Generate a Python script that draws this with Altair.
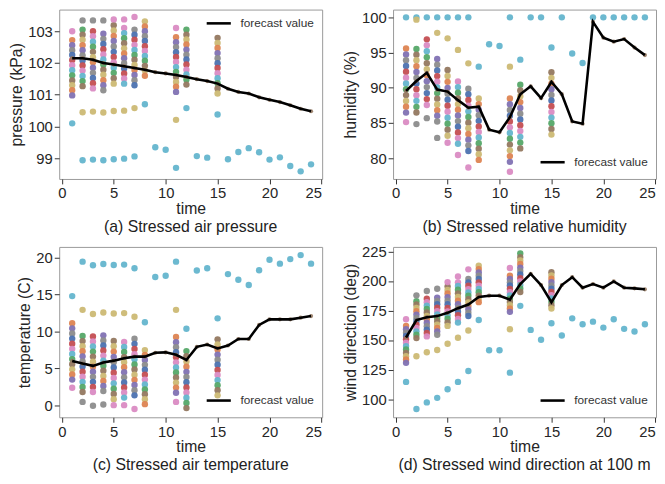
import altair as alt
import pandas as pd

HOURS = list(range(1, 25))
COLUMN_HOURS = [1, 2, 3, 4, 5, 6, 7, 8, 11, 12, 15]

PALETTE_NAMES = ["blue", "orange", "green", "red", "purple", "brown", "pink", "gray", "olive", "cyan"]
PALETTE_HEX = ["#4C72B0", "#DD8452", "#55A868", "#C44E52", "#8172B3", "#937860",
               "#DA8BC3", "#8C8C8C", "#CCB974", "#64B5CD"]

# ---------------- (a) air pressure ----------------
pressure_forecast = [102.15, 102.15, 102.10, 102.00, 101.95, 101.90, 101.84, 101.79, 101.71, 101.67,
                     101.62, 101.56, 101.49, 101.43, 101.35, 101.19, 101.09, 101.04, 100.92, 100.84,
                     100.77, 100.67, 100.56, 100.48]
pressure_columns = [
    [102.72, 102.56, 102.40, 102.25, 102.09, 101.93, 101.77, 101.61, 101.45, 101.30, 101.14, 100.98],
    [103.05, 102.89, 102.73, 102.56, 102.40, 102.24, 102.08, 101.92, 101.76, 101.59, 101.43, 101.27],
    [103.00, 102.84, 102.67, 102.51, 102.35, 102.18, 102.02, 101.85, 101.69, 101.53, 101.36, 101.20],
    [102.92, 102.76, 102.60, 102.43, 102.27, 102.11, 101.95, 101.79, 101.63, 101.46, 101.30, 101.14],
    [103.19, 103.02, 102.85, 102.69, 102.52, 102.35, 102.19, 102.02, 101.85, 101.69, 101.52, 101.35],
    [103.10, 102.94, 102.78, 102.62, 102.46, 102.30, 102.15, 101.99, 101.83, 101.67, 101.51, 101.35],
    [103.05, 102.89, 102.73, 102.57, 102.41, 102.25, 102.10, 101.94, 101.78, 101.62, 101.46, 101.30],
    [103.31, 103.15, 103.00, 102.84, 102.69, 102.53, 102.38, 102.22, 102.07, 101.91, 101.76, 101.60],
    [102.81, 102.65, 102.50, 102.34, 102.19, 102.03, 101.87, 101.72, 101.56, 101.40, 101.25, 101.09],
    [103.05, 102.89, 102.74, 102.58, 102.42, 102.26, 102.11, 101.95, 101.79, 101.64, 101.48, 101.32],
    [102.79, 102.63, 102.47, 102.31, 102.15, 101.99, 101.84, 101.68, 101.52, 101.36, 101.20, 101.04],
]
pressure_cyan = [100.10, 98.94, 98.96, 98.94, 98.97, 98.99, 99.06, 100.70, 99.35, 99.27,
                 98.70, 100.58, 99.07, 99.02, 100.38, 98.97, 99.20, 99.32, 99.19, 98.96,
                 99.03, 98.76, 98.59, 98.81]
pressure_tan_hours = [2, 3, 4, 5, 6, 7, 11]
pressure_tan = [100.45, 100.47, 100.44, 100.49, 100.50, 100.58, 100.21]
pressure_pink_hours = [1, 5, 6, 7, 11]
pressure_pink = [103.00, 103.37, 103.37, 103.45, 103.10]
pressure_gray_hours = [2, 3, 4]
pressure_gray = [103.34, 103.34, 103.34]

# ---------------- (b) relative humidity ----------------
humidity_forecast = [89.56, 90.96, 92.12, 89.74, 89.46, 88.25, 87.18, 87.32, 84.06, 83.68,
                     85.83, 89.09, 90.21, 88.53, 90.82, 89.09, 85.22, 84.90, 99.35, 97.11,
                     96.55, 96.92, 95.71, 94.64]
humidity_columns = [
    [95.57, 94.74, 93.92, 93.09, 92.27, 91.44, 90.61, 89.79, 88.96, 88.13, 87.31, 86.48],
    [95.50, 94.70, 93.90, 93.05, 92.25, 91.40, 90.60, 89.80, 88.95, 88.15, 87.30, 86.50],
    [96.88, 96.03, 95.18, 94.34, 93.49, 92.64, 91.79, 90.94, 90.10, 89.25, 88.40, 87.55],
    [94.08, 93.27, 92.47, 91.66, 90.86, 90.05, 89.25, 88.44, 87.64, 86.83, 86.03, 85.22],
    [92.54, 91.69, 90.84, 89.99, 89.14, 88.30, 87.45, 86.60, 85.75, 84.90, 84.05, 83.20],
    [90.91, 90.10, 89.30, 88.49, 87.69, 86.88, 86.08, 85.27, 84.47, 83.66, 82.86, 82.05],
    [89.88, 89.08, 88.27, 87.47, 86.66, 85.86, 85.05, 84.25, 83.44, 82.64, 81.83, 81.03],
    [88.48, 87.69, 86.90, 86.10, 85.31, 84.52, 83.73, 82.94, 82.14, 81.35, 80.56, 79.77],
    [88.48, 87.66, 86.85, 86.03, 85.21, 84.39, 83.58, 82.76, 81.94, 81.12, 80.31, 79.49],
    [90.44, 89.62, 88.80, 87.97, 87.15, 86.33, 85.51, 84.69, 83.87, 83.04, 82.22, 81.40],
    [92.21, 91.41, 90.60, 89.80, 88.99, 88.19, 87.38, 86.58, 85.77, 84.97, 84.16, 83.36],
]
humidity_cyan = [100.0, 100.0, 100.0, 100.0, 100.0, 100.0, 100.0, 93.00, 96.18, 95.94,
                 100.0, 93.99, 100.0, 100.0, 95.71, 100.0, 94.87, 93.52, 100.0, 100.0,
                 100.0, 100.0, 100.0, 100.0]
humidity_tan_hours = [2, 4, 5, 6, 7, 11]
humidity_tan = [99.67, 97.80, 97.02, 95.38, 93.47, 93.00]
humidity_pink_hours = [1, 5, 6, 7, 11]
humidity_pink = [85.13, 82.20, 80.47, 78.69, 78.09]
humidity_gray_hours = [2, 3, 4]
humidity_gray = [84.85, 85.69, 82.89]

# ---------------- (c) air temperature ----------------
temperature_forecast = [6.00, 5.64, 5.33, 5.78, 6.04, 6.36, 6.58, 6.58, 7.11, 7.16,
                        6.84, 6.13, 7.91, 8.22, 7.69, 8.09, 8.98, 8.98, 10.89, 11.64,
                        11.64, 11.64, 11.87, 12.09]
temperature_columns = [
    [11.11, 10.42, 9.72, 9.03, 8.33, 7.64, 6.94, 6.25, 5.55, 4.86, 4.16, 3.47],
    [9.38, 8.69, 8.00, 7.31, 6.62, 5.93, 5.23, 4.54, 3.85, 3.16, 2.47, 1.78],
    [9.33, 8.64, 7.96, 7.27, 6.59, 5.90, 5.21, 4.53, 3.84, 3.16, 2.47, 1.78],
    [9.47, 8.78, 8.10, 7.41, 6.72, 6.04, 5.35, 4.66, 3.97, 3.29, 2.60, 1.91],
    [8.71, 7.99, 7.27, 6.55, 5.83, 5.12, 4.40, 3.68, 2.96, 2.24, 1.52, 0.80],
    [8.58, 7.89, 7.21, 6.52, 5.83, 5.14, 4.46, 3.77, 3.08, 2.39, 1.71, 1.02],
    [9.02, 8.32, 7.62, 6.92, 6.22, 5.53, 4.83, 4.13, 3.43, 2.73, 2.03, 1.33],
    [7.47, 6.80, 6.13, 5.47, 4.80, 4.14, 3.47, 2.80, 2.13, 1.47, 0.80, 0.13],
    [9.24, 8.55, 7.87, 7.18, 6.50, 5.81, 5.12, 4.43, 3.75, 3.06, 2.38, 1.69],
    [7.33, 6.63, 5.92, 5.22, 4.52, 3.81, 3.11, 2.41, 1.71, 1.00, 0.30, -0.40],
    [8.93, 8.24, 7.55, 6.86, 6.17, 5.48, 4.78, 4.09, 3.40, 2.71, 2.02, 1.33],
]
temperature_cyan = [14.80, 19.47, 18.98, 19.16, 19.02, 19.07, 18.58, 11.24, 17.38, 17.56,
                    19.47, 10.36, 18.27, 18.58, 11.78, 17.78, 17.02, 16.31, 18.31, 19.73,
                    19.20, 19.82, 20.36, 19.20]
temperature_tan_hours = [2, 3, 4, 5, 6, 7, 11]
temperature_tan = [12.93, 12.36, 12.58, 12.44, 12.49, 12.00, 12.93]
temperature_pink_hours = [1, 5, 6, 7, 11]
temperature_pink = [2.36, 0.00, 0.00, -0.53, 0.44]
temperature_gray_hours = [2, 3, 4]
temperature_gray = [0.44, -0.09, 0.09]

# ---------------- (d) wind direction at 100 m ----------------
wind_forecast = [152.2, 167.0, 169.4, 170.3, 173.1, 177.0, 180.1, 186.5, 187.6, 187.6,
                 184.3, 197.4, 206.1, 196.6, 182.1, 196.6, 203.3, 194.4, 197.4, 194.4,
                 199.7, 194.4, 193.8, 193.0]
wind_columns = [
    [162.0, 159.2, 156.3, 153.5, 150.6, 147.8, 144.9, 142.1, 139.2, 136.4, 133.5, 130.7],
    [182.9, 180.1, 177.2, 174.4, 171.6, 168.7, 165.9, 163.1, 160.2, 157.4, 154.5, 151.7],
    [185.0, 182.1, 179.2, 176.3, 173.4, 170.5, 167.6, 164.7, 161.8, 158.9, 156.0, 153.1],
    [186.0, 183.1, 180.3, 177.4, 174.5, 171.7, 168.8, 165.9, 163.1, 160.2, 157.4, 154.5],
    [195.5, 192.5, 189.4, 186.4, 183.3, 180.3, 177.2, 174.2, 171.1, 168.1, 165.0, 162.0],
    [198.9, 195.8, 192.7, 189.6, 186.5, 183.4, 180.3, 177.2, 174.1, 171.0, 167.9, 164.8],
    [201.7, 198.9, 196.0, 193.2, 190.3, 187.5, 184.6, 181.8, 178.9, 176.1, 173.2, 170.4],
    [212.9, 210.1, 207.3, 204.5, 201.7, 198.9, 196.1, 193.3, 190.5, 187.7, 184.9, 182.1],
    [204.5, 201.7, 198.9, 196.2, 193.4, 190.6, 187.8, 185.0, 182.2, 179.5, 176.7, 173.9],
    [223.3, 220.3, 217.4, 214.4, 211.4, 208.5, 205.5, 202.5, 199.6, 196.6, 193.7, 190.7],
    [207.5, 204.7, 201.9, 199.1, 196.3, 193.5, 190.8, 188.0, 185.2, 182.4, 179.6, 176.8],
]
wind_cyan = [114.6, 91.6, 97.2, 101.1, 108.4, 114.6, 123.8, 167.0, 141.4, 141.4,
             122.4, 179.0, 158.6, 150.3, 164.2, 153.9, 168.4, 163.4, 165.6, 160.6,
             167.6, 159.5, 157.3, 163.4]
wind_tan_hours = [2, 3, 4, 5, 6, 7, 11]
wind_tan = [136.3, 139.7, 141.6, 146.9, 152.0, 158.1, 159.2]
wind_pink_hours = [1, 5, 6, 7, 11]
wind_pink = [167.6, 199.1, 203.8, 209.9, 211.0]
wind_gray_hours = [2, 3, 4]
wind_gray = [187.9, 191.6, 193.5]

FONT = "Liberation Sans"


def build_panel(forecast, columns, cyan, tan_h, tan, pink_h, pink, gray_h, gray,
                domain, yticks, ytitle, caption, legend_y, height):
    rows = []
    for h, vals in zip(COLUMN_HOURS, columns):
        for i, v in enumerate(vals):
            rows.append({"time": h, "value": v, "member": PALETTE_NAMES[(i * 3 + h) % 10]})
    for h, v in zip(HOURS, cyan):
        rows.append({"time": h, "value": v, "member": "cyan"})
    for h, v in zip(tan_h, tan):
        rows.append({"time": h, "value": v, "member": "olive"})
    for h, v in zip(pink_h, pink):
        rows.append({"time": h, "value": v, "member": "pink"})
    for h, v in zip(gray_h, gray):
        rows.append({"time": h, "value": v, "member": "gray"})
    ens = pd.DataFrame(rows)
    fc = pd.DataFrame({"time": HOURS, "value": forecast, "series": ["forecast value"] * len(HOURS)})

    x = alt.X("time:Q", scale=alt.Scale(domain=[-0.25, 25.07], nice=False, zero=False),
              axis=alt.Axis(values=[0, 5, 10, 15, 20, 25], title="time"))
    y = alt.Y("value:Q", scale=alt.Scale(domain=domain, nice=False, zero=False),
              axis=alt.Axis(values=yticks, title=ytitle))

    pts = alt.Chart(ens).mark_circle(size=42, opacity=0.95).encode(
        x=x, y=y,
        color=alt.Color("member:N", scale=alt.Scale(domain=PALETTE_NAMES, range=PALETTE_HEX), legend=None),
    )
    fdots = alt.Chart(fc).mark_circle(size=18, color="#937860", opacity=0.9).encode(x=x, y=y)
    line = alt.Chart(fc).mark_line(strokeWidth=2.6).encode(
        x=x, y=y,
        stroke=alt.Stroke("series:N", scale=alt.Scale(domain=["forecast value"], range=["#000000"]),
                          legend=alt.Legend(title=None, orient="none", legendX=148, legendY=legend_y,
                                            symbolType="stroke", symbolStrokeWidth=2.6, symbolSize=600,
                                            labelFontSize=12, labelOffset=8, labelColor="#333333",
                                            labelFont=FONT, padding=0)),
    )
    return alt.layer(pts, fdots, line).properties(
        width=267, height=height,
        title=alt.TitleParams(caption, orient="bottom", fontSize=16, fontWeight="normal", font=FONT,
                              color="#222222", offset=3, anchor="middle"),
    )


pa = build_panel(pressure_forecast, pressure_columns, pressure_cyan, pressure_tan_hours, pressure_tan,
                 pressure_pink_hours, pressure_pink, pressure_gray_hours, pressure_gray,
                 [98.35, 103.68], [99, 100, 101, 102, 103], "pressure (kPa)",
                 "(a) Stressed air pressure", 0, 172)
pb = build_panel(humidity_forecast, humidity_columns, humidity_cyan, humidity_tan_hours, humidity_tan,
                 humidity_pink_hours, humidity_pink, humidity_gray_hours, humidity_gray,
                 [77.06, 101.1], [80, 85, 90, 95, 100], "humidity (%)",
                 "(b) Stressed relative humidity", 141, 172)
pc = build_panel(temperature_forecast, temperature_columns, temperature_cyan, temperature_tan_hours,
                 temperature_tan, temperature_pink_hours, temperature_pink, temperature_gray_hours,
                 temperature_gray, [-1.65, 21.47], [0, 5, 10, 15, 20], "temperature (C)",
                 "(c) Stressed air temperature", 142, 173)
pd_ = build_panel(wind_forecast, wind_columns, wind_cyan, wind_tan_hours, wind_tan,
                  wind_pink_hours, wind_pink, wind_gray_hours, wind_gray,
                  [84.6, 228.9], [100, 125, 150, 175, 200, 225], "wind direction (deg)",
                  "(d) Stressed wind direction at 100 m", 142, 173)

chart = alt.concat(pa, pb, pc, pd_, columns=2, spacing={"row": 8, "column": 19}).resolve_scale(
    color="independent", stroke="independent", x="independent", y="independent"
).resolve_legend(stroke="independent").properties(
    padding={"left": 0, "top": -3, "right": 0, "bottom": -2}
).configure_view(
    stroke="#999999", strokeWidth=1
).configure_axis(
    domain=False, grid=False, tickColor="#333333", tickSize=5, tickWidth=1,
    labelFont=FONT, labelFontSize=15, labelColor="#262626", labelPadding=2,
    titleFont=FONT, titleFontSize=16, titleFontWeight="normal", titleColor="#262626",
).configure_axisY(titlePadding=3).configure_axisX(titlePadding=0)

chart.save("out.html", embed_options={"renderer": "svg", "actions": False})
